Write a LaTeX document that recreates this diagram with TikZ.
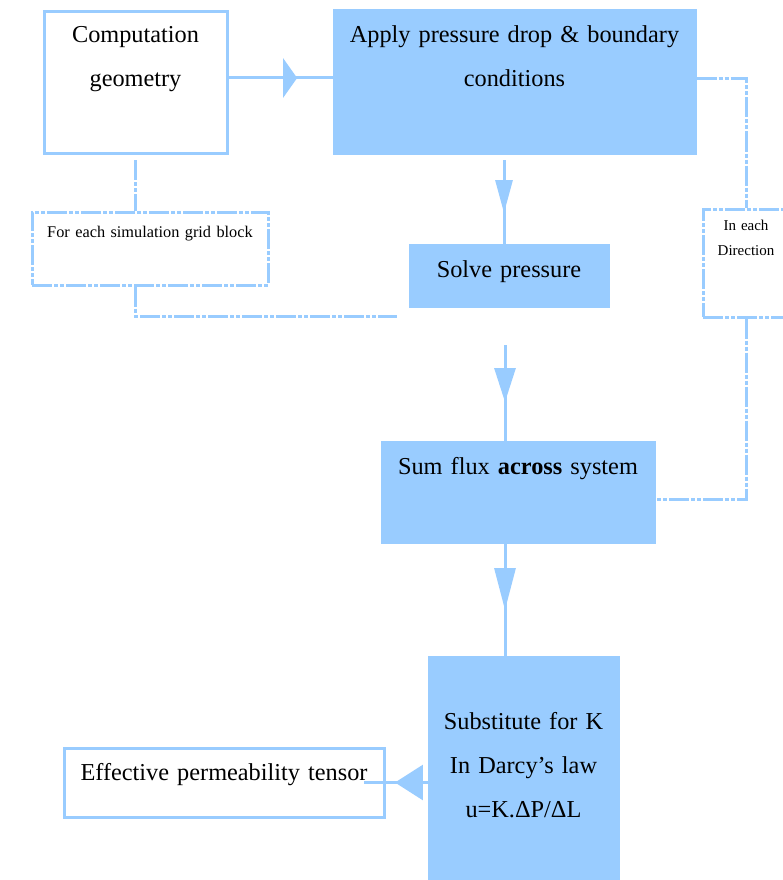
\documentclass[tikz,border=0pt]{standalone}
\usepackage{fontspec}
\setmainfont{Liberation Serif}
\usetikzlibrary{arrows.meta,decorations.markings}
\definecolor{skyblue}{HTML}{99CCFF}
\newcommand{\boxfont}{\fontsize{24.3}{44}\selectfont}
\newcommand{\notefont}{\fontsize{16.3}{25}\selectfont}
\newcommand{\dirfont}{\fontsize{15}{25}\selectfont}

\tikzset{
  block/.style={draw=skyblue, line width=3pt, inner sep=0pt, align=center, font=\boxfont},
  solidbox/.style={block, fill=skyblue},
  openbox/.style={block, fill=white},
  loopbox/.style={draw=skyblue, line width=3pt, dash pattern=on 20pt off 2pt on 4pt off 2pt on 4pt off 2pt, inner sep=0pt, align=center, fill=white},
  flow/.style={draw=skyblue, line width=3pt},
  loopline/.style={draw=skyblue, line width=3pt, dash pattern=on 20pt off 2pt on 4pt off 2pt on 4pt off 2pt},
  midhead/.style n args={3}{postaction={decorate}, decoration={markings, mark=at position #1 with {\arrow[skyblue]{Triangle[length=#2, width=#3]}}}},
}

\begin{document}
\begin{tikzpicture}[x=1pt, y=-1pt]
    \useasboundingbox (0,0) rectangle (783,880);
    \clip (0,0) rectangle (783,880);
    \fill [white] (0,0) rectangle (783,880);

    % boxes
    \node [openbox, text width=183pt, text height=31pt, text depth=110pt] (geom) at (135.5,82.5) {Computation\\geometry};
    \node [solidbox, text width=361pt, text height=32pt, text depth=110pt] (apply) at (514.5,82) {Apply pressure drop \& boundary\\conditions};
    \node [solidbox, text width=198pt, text height=32pt, text depth=29pt] (solve) at (509,275.5) {Solve pressure};
    \node [solidbox, text width=272pt, text height=32pt, text depth=68pt] (sum) at (518,492) {Sum flux \textbf{across} system};
    \node [solidbox, text width=189pt, text height=72pt, text depth=156pt] (subst) at (523.5,771) {Substitute for K\\In Darcy’s law\\u=K.ΔP/ΔL};
    \node [openbox, text width=320pt, text height=32pt, text depth=37pt] (eff) at (224,782.5) {Effective permeability tensor};

    % loop boxes
    \node [loopbox, font=\notefont, text width=236pt, text height=25pt, text depth=48pt] (foreach) at (150,248.5) {For each simulation grid block};
    \node [loopbox, font=\dirfont, text width=86pt, text height=21pt, text depth=87pt] (ineach) at (746,263) {In each\\Direction};

    % free ends
    \coordinate (g1) at ([yshift=4.5pt]geom.east);
    \coordinate (a1) at (504,160);
    \coordinate (a2) at (505,345);
    \coordinate (e1) at ([xshift=-21.5pt]eff.east);
    \coordinate (g2) at ([yshift=-5.5pt]geom.south);
    \coordinate (loopend) at (397,316);
    \coordinate (p1) at ([yshift=3pt]apply.east);
    \coordinate (s1) at ([yshift=-7pt]sum.east);

    % main flow
    \draw [flow, midhead={0.66}{14pt}{39pt}] (g1) -- (g1 -| apply.west);
    \draw [flow, midhead={0.635}{33pt}{17pt}] (a1) -- (a1 |- solve.north);
    \draw [flow, midhead={0.597}{34pt}{21pt}] (a2) -- (a2 |- sum.north);
    \draw [flow, midhead={0.594}{42pt}{21pt}] (sum.south -| a2) -- (a2 |- subst.north);
    \draw [flow, midhead={0.512}{28pt}{35pt}] (subst.west |- e1) -- (e1);

    % loops
    \draw [loopline] (g2) -- (g2 |- foreach.north);
    \draw [loopline] (g2 |- foreach.south) |- (loopend);
    \draw [loopline] (p1) -| (ineach.north);
    \draw [loopline] (ineach.south) |- (s1);
\end{tikzpicture}
\end{document}
